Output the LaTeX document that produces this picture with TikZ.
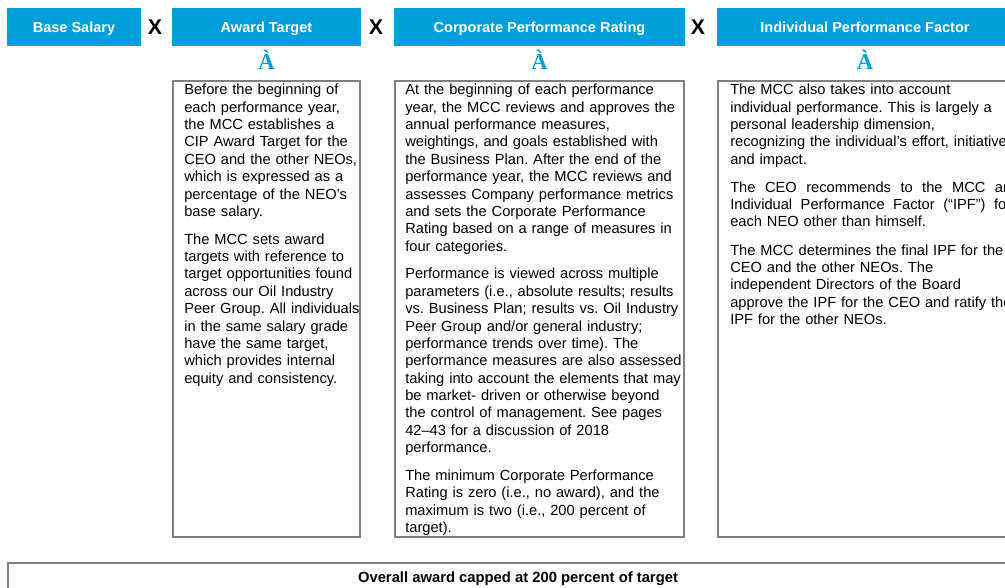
\documentclass[tikz,border=0pt]{standalone}
\usepackage{fontspec}
\setmainfont{Liberation Sans}
\newfontfamily\arrowfont{Liberation Serif}
\usepackage{tikz}
\definecolor{cipblue}{RGB}{0,159,219}
\definecolor{boxgray}{RGB}{128,128,128}
\tikzset{hdr/.style={fill=cipblue, text=white, anchor=north west, inner sep=0pt, outer sep=0pt,
    minimum height=28.5pt, text height=7.8pt, text depth=0pt,
    font=\fontsize{10.9}{13}\selectfont\bfseries},
  times/.style={inner sep=0pt, text height=11.5pt, text depth=0pt, font=\fontsize{16}{16}\selectfont\bfseries},
  pointer/.style={inner sep=0pt, text=cipblue, font=\arrowfont\fontsize{17}{17}\selectfont\bfseries},
  descbox/.style={draw=boxgray, line width=1.5pt, anchor=north west, inner sep=0pt, outer sep=0pt,
    minimum height=342pt},
  desc/.style={anchor=base west, inner sep=0pt, align=left, text width=#1,
    font=\fontsize{11}{13}\selectfont}
}
\frenchspacing
\newcommand{\fullline}[1]{\leavevmode\hbox to 210.75pt{#1}}

\begin{document}
\begin{tikzpicture}[x=0.75pt,y=-0.75pt]
            \useasboundingbox (0,0) rectangle (1005,588);
            \clip (0,0) rectangle (1005,588);

            % Headers
            \node[hdr, minimum width=100.5pt] (salary) at (7,8) {Base Salary};
            \node[hdr, minimum width=141.75pt] (award) at (172,8) {Award Target};
            \node[hdr, minimum width=218.25pt] (rating) at (394,8) {Corporate Performance Rating};
            \node[hdr, minimum width=222pt] (ipf) at (717,8) {Individual Performance Factor};

            \node[times] (x1) at (155,27) {X};
            \node[times] (x2) at (376,27) {X};
            \node[times] (x3) at (698,27) {X};

            % Pointers
            \node[pointer] (awardptr) at (266.5,60) {À};
            \node[pointer] (ratingptr) at (539.5,60) {À};
            \node[pointer] (ipfptr) at (865,60) {À};

            % Boxes
            \node[descbox, minimum width=140.25pt] (awardbox) at (173,81) {};
            \node[descbox, minimum width=216.75pt] (ratingbox) at (395,81) {};
            \node[descbox, minimum width=220.5pt] (ipfbox) at (718,81) {};

            % Texts
            \node[desc=170pt] (awardtxt) at (184,95) {Before the beginning of\\
                each performance year,\\
                the MCC establishes a\\
                CIP Award Target for the\\
                CEO and the other NEOs,\\
                which is expressed as a\\
                percentage of the NEO’s\\
                base salary.\\[8pt]
                The MCC sets award\\
                targets with reference to\\
                target opportunities found\\
                across our Oil Industry\\
                Peer Group. All individuals\\
                in the same salary grade\\
                have the same target,\\
                which provides internal\\
                equity and consistency.};
            \node[desc=250pt] (ratingtxt) at (405,95) {At the beginning of each performance\\
                year, the MCC reviews and approves the\\
                annual performance measures,\\
                weightings, and goals established with\\
                the Business Plan. After the end of the\\
                performance year, the MCC reviews and\\
                assesses Company performance metrics\\
                and sets the Corporate Performance\\
                Rating based on a range of measures in\\
                four categories.\\[8pt]
                Performance is viewed across multiple\\
                parameters (i.e., absolute results; results\\
                vs. Business Plan; results vs. Oil Industry\\
                Peer Group and/or general industry;\\
                performance trends over time). The\\
                performance measures are also assessed\\
                taking into account the elements that may\\
                be market- driven or otherwise beyond\\
                the control of management. See pages\\
                42--43 for a discussion of 2018\\
                performance.\\[8pt]
                The minimum Corporate Performance\\
                Rating is zero (i.e., no award), and the\\
                maximum is two (i.e., 200 percent of\\
                target).};
            \node[desc=250pt] (ipftxt) at (730,95) {The MCC also takes into account\\
                individual performance. This is largely a\\
                personal leadership dimension,\\
                recognizing the individual’s effort, initiative,\\
                and impact.\\[8pt]
                \fullline{The\hfill CEO\hfill recommends\hfill to\hfill the\hfill MCC\hfill an}\\
                \fullline{Individual\hfill Performance\hfill Factor\hfill (“IPF”)\hfill for}\\
                each NEO other than himself.\\[8pt]
                The MCC determines the final IPF for the\\
                CEO and the other NEOs. The\\
                independent Directors of the Board\\
                approve the IPF for the CEO and ratify the\\
                IPF for the other NEOs.};

            % Cap
            \node[draw=boxgray, line width=1.5pt, anchor=north west, inner sep=0pt, outer sep=0pt,
                minimum width=765pt, minimum height=24pt, font=\fontsize{11.1}{13}\selectfont\bfseries]
                (cap) at (8,563) {Overall award capped at 200 percent of target};
        \end{tikzpicture}
\end{document}
